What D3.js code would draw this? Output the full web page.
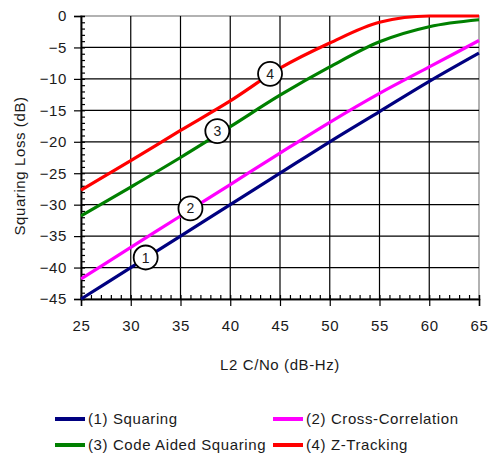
<!DOCTYPE html>
<html>
<head>
<meta charset="utf-8">
<script src="https://cdn.jsdelivr.net/npm/d3@7"></script>
<style>
  body { margin: 0; background: #fff; }
  text { font-family: "Liberation Sans", Arial, sans-serif; fill: #1a1a1a; letter-spacing: 0.6px; }
</style>
</head>
<body>
<div id="chart"></div>
<script>
// C/No values (dB-Hz) at which the curves were read
var cno = [25, 30, 35, 40, 45, 50, 55, 60, 65];

// squaring loss (dB) for each technique
var squaring = [-45, -40, -35, -30, -25, -20, -15.2, -10.4, -5.9];
var crossCorrelation = [-41.8, -36.8, -31.8, -26.8, -21.8, -16.9, -12.3, -8.1, -3.9];
var codeAided = [-31.8, -27.2, -22.5, -17.6, -12.6, -8.1, -4.1, -1.7, -0.6];
var zTracking = [-27.7, -23, -18.2, -13.5, -8.3, -4.3, -1.0, 0, 0];

var seriesNames = ["(1) Squaring", "(2) Cross-Correlation", "(3) Code Aided Squaring", "(4) Z-Tracking"];
var seriesColors = ["#000080", "#ff00ff", "#008000", "#ff0000"];

// circled number labels: [C/No, loss]
var markerPos = [[31.5, -38.4], [36.0, -30.6], [38.7, -18.3], [44.0, -9.2]];

var xTicks = [25, 30, 35, 40, 45, 50, 55, 60, 65];
var yTicks = [0, -5, -10, -15, -20, -25, -30, -35, -40, -45];

var allSeries = [squaring, crossCorrelation, codeAided, zTracking];

// outer size and plot area
var margin = {top: 16, right: 10, bottom: 158, left: 81},
  width = 489 - margin.left - margin.right,
  height = 457 - margin.top - margin.bottom;

var svg = d3.select("#chart")
  .append("svg")
    .attr("width", 489)
    .attr("height", 457);

var chart = svg.append("g")
  .attr("transform", "translate(" + margin.left + "," + margin.top + ")");

// scales
var x = d3.scaleLinear().domain([25, 65]).range([0, width]);
var y = d3.scaleLinear().domain([-45, 0]).range([height, 0]);

// plot frame (grey top and right)
chart.append("rect")
  .attr("width", width)
  .attr("height", height)
  .attr("fill", "#fff")
  .attr("stroke", "#999")
  .attr("stroke-width", 1.5);

// grid lines
chart.append("g")
  .selectAll("line.vgrid")
  .data(xTicks.slice(1, -1))
  .enter().append("line")
    .attr("x1", function(d) { return x(d); })
    .attr("x2", function(d) { return x(d); })
    .attr("y1", 0)
    .attr("y2", height)
    .attr("stroke", "#000")
    .attr("stroke-width", 1.2);

chart.append("g")
  .selectAll("line.hgrid")
  .data(yTicks.slice(1, -1))
  .enter().append("line")
    .attr("x1", 0)
    .attr("x2", width)
    .attr("y1", function(d) { return y(d); })
    .attr("y2", function(d) { return y(d); })
    .attr("stroke", "#000")
    .attr("stroke-width", 1.2);

// minor ticks on x axis (pointing up)
var xMinor = chart.append("g")
  .attr("transform", "translate(0," + height + ")")
  .call(d3.axisBottom(x).tickValues(d3.range(26, 65, 1)).tickSize(-4).tickFormat(""));

// major x axis
var xAxis = chart.append("g")
  .attr("transform", "translate(0," + height + ")")
  .call(d3.axisBottom(x).tickValues(xTicks).tickSize(7).tickPadding(14).tickFormat(d3.format("d")));

// minor ticks on y axis (pointing right)
var yMinor = chart.append("g")
  .call(d3.axisLeft(y).tickValues(d3.range(-44, 0, 1)).tickSize(-4).tickFormat(""));

// major y axis
var yAxis = chart.append("g")
  .call(d3.axisLeft(y).tickValues(yTicks).tickSize(7).tickPadding(7));

[xMinor, xAxis, yMinor, yAxis].forEach(function(g) {
  g.select(".domain").attr("stroke", "#000").attr("stroke-width", 1.5);
  g.selectAll(".tick line").attr("stroke", "#000").attr("stroke-width", 1.2);
  g.selectAll(".tick text")
    .style("font-family", "'Liberation Sans', Arial, sans-serif")
    .style("font-size", "15px")
    .attr("fill", "#1a1a1a");
});

// the curves
var line = d3.line()
  .x(function(d, i) { return x(cno[i]); })
  .y(function(d) { return y(d); })
  .curve(d3.curveMonotoneX);

chart.selectAll(".curve")
  .data(allSeries)
  .enter().append("path")
    .attr("class", "curve")
    .attr("d", line)
    .attr("fill", "none")
    .attr("stroke", function(d, i) { return seriesColors[i]; })
    .attr("stroke-width", 3.2);

// circled numbers
var marks = chart.selectAll(".mark")
  .data(markerPos)
  .enter().append("g")
    .attr("class", "mark")
    .attr("transform", function(d) { return "translate(" + x(d[0]) + "," + y(d[1]) + ")"; });

marks.append("circle")
  .attr("r", 12)
  .attr("fill", "#fff")
  .attr("stroke", "#000")
  .attr("stroke-width", 1.8);

marks.append("text")
  .attr("text-anchor", "middle")
  .attr("dy", "0.36em")
  .style("font-size", "14px")
  .style("letter-spacing", "0px")
  .attr("fill", "#333")
  .text(function(d, i) { return i + 1; });

// axis titles
svg.append("text")
  .attr("transform", "translate(25," + 166 + ") rotate(-90)")
  .attr("text-anchor", "middle")
  .style("font-size", "15px")
  .text("Squaring Loss (dB)");

svg.append("text")
  .attr("x", margin.left + width / 2)
  .attr("y", 370)
  .attr("text-anchor", "middle")
  .style("font-size", "15px")
  .text("L2 C/No (dB-Hz)");

// legend, two columns
var legend = svg.selectAll(".legend")
  .data(seriesNames)
  .enter().append("g")
    .attr("class", "legend")
    .attr("transform", function(d, i) {
      return "translate(" + (i % 2 === 0 ? 55 : 273) + "," + (i < 2 ? 419 : 445) + ")";
    });

legend.append("line")
  .attr("x1", 0)
  .attr("x2", 30)
  .attr("stroke", function(d, i) { return seriesColors[i]; })
  .attr("stroke-width", 4);

legend.append("text")
  .attr("x", 33)
  .attr("dy", "0.35em")
  .style("font-size", "15px")
  .text(function(d) { return d; });
</script>
</body>
</html>
